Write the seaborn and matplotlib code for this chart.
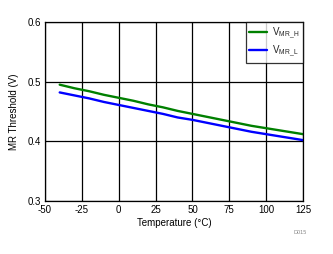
import matplotlib
matplotlib.use("Agg")
import matplotlib.pyplot as plt
import seaborn as sns
import pandas as pd

temps = [-40, -30, -20, -10, 0, 10, 20, 30, 40, 50, 60, 70, 80, 90, 100, 110, 120, 125]
v_mr_h = [0.495, 0.489, 0.484, 0.478, 0.473, 0.468, 0.462, 0.457, 0.451, 0.446, 0.441, 0.436, 0.431, 0.426, 0.422, 0.418, 0.414, 0.412]
v_mr_l = [0.482, 0.477, 0.472, 0.466, 0.461, 0.456, 0.451, 0.446, 0.440, 0.436, 0.431, 0.426, 0.421, 0.416, 0.412, 0.408, 0.404, 0.402]
labels = [r"V$_{\mathregular{MR\_H}}$", r"V$_{\mathregular{MR\_L}}$"]
xticks = [-50, -25, 0, 25, 50, 75, 100, 125]
yticks = [0.3, 0.4, 0.5, 0.6]

sns.set_theme(style="white")
plt.rcParams["font.family"] = ["Liberation Sans", "DejaVu Sans"]
plt.rcParams["mathtext.fontset"] = "custom"
plt.rcParams["mathtext.rm"] = "Liberation Sans"

df = pd.DataFrame({
    "Temperature": temps * 2,
    "V": v_mr_h + v_mr_l,
    "Series": [labels[0]] * len(temps) + [labels[1]] * len(temps),
})

fig = plt.figure(figsize=(3.33, 2.54), dpi=100)
ax = fig.add_axes([0.135, 0.209, 0.775, 0.704])
sns.lineplot(data=df, x="Temperature", y="V", hue="Series", palette=["#008000", "#0000ff"],
             linewidth=1.7, ax=ax)
ax.set_xlim(-50, 125)
ax.set_ylim(0.3, 0.6)
ax.set_xticks(xticks)
ax.set_xticklabels([str(t) for t in xticks])
ax.set_yticks(yticks)
ax.set_yticklabels([f"{t:.1f}" for t in yticks])
ax.grid(True, color="black", linewidth=0.9)
for s in ax.spines.values():
    s.set_color("black")
    s.set_linewidth(0.9)
ax.tick_params(axis="both", labelsize=7, colors="black", length=0, pad=3)
ax.set_xlabel("Temperature (°C)", fontsize=7, color="black", labelpad=2)
ax.set_ylabel("MR Threshold (V)", fontsize=7, color="black", labelpad=6)
leg = ax.legend(loc="upper right", fontsize=7, frameon=True, fancybox=False,
                borderaxespad=0, handlelength=1.9, handletextpad=0.5,
                borderpad=0.35, labelspacing=0.2)
leg.get_frame().set_edgecolor("black")
leg.get_frame().set_linewidth(0.9)
leg.set_title(None)
fig.text(0.92, 0.08, "D015", fontsize=4, color="#888888", ha="right")
fig.savefig("out.png", dpi=100)
